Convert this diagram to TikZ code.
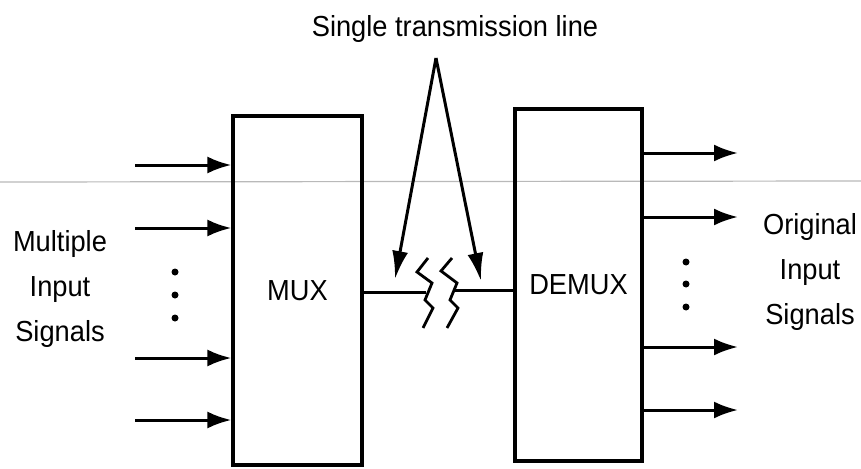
\documentclass[tikz,border=0pt]{standalone}
\usepackage{fontspec}
\setmainfont{Liberation Sans}[FakeStretch=0.94]
\usetikzlibrary{arrows.meta}
\begin{document}
\begin{tikzpicture}[x=1pt,y=-1pt,
  box/.style={draw,line width=3.2pt,inner sep=0pt,font=\fontsize{29}{30}\selectfont},
  lbl/.style={align=center,font=\fontsize{29}{45}\selectfont,inner sep=0pt},
  sig/.style={line width=3pt,-{Latex[length=24pt,width=17pt]}},
  tx/.style={line width=3pt,-{Latex[length=28pt,width=16pt]}},
  wire/.style={line width=3pt},
  brk/.style={line width=2.8pt,line join=miter},
  dotm/.style={circle,fill,inner sep=0pt,minimum size=7pt}]
\useasboundingbox (0,0) rectangle (861,468);
% faint scan line
\draw[gray!55,line width=1.2pt] (0,182) -- (861,181);
% boxes
\node[box,minimum width=129pt,minimum height=349pt] (mux) at (297.5,290.5) {MUX};
\node[box,minimum width=127pt,minimum height=352pt] (demux) at (578.5,285) {DEMUX};
% input arrows
\foreach \y [count=\i] in {165,228,358,420}{
  \coordinate (in\i) at (135,\y);
  \draw[sig] (in\i) -- (in\i -| mux.west);
}
% output arrows
\foreach \y [count=\i] in {153,217,347,410}{
  \coordinate (out\i) at (738,\y);
  \draw[sig] (out\i -| demux.east) -- (out\i);
}
% dots
\node[dotm] (dl1) at (175,272) {};
\node[dotm] (dl2) at (175,295) {};
\node[dotm] (dl3) at (175,318) {};
\node[dotm] (dr1) at (686,262) {};
\node[dotm] (dr2) at (686,284) {};
\node[dotm] (dr3) at (686,307) {};
% side labels
\node[lbl] (inlbl) at (60,289) {Multiple\\Input\\Signals};
\node[lbl] (outlbl) at (810,272) {Original\\Input\\Signals};
% title
\node[font=\fontsize{29}{30}\selectfont,anchor=base,inner sep=0pt] (title) at (455,37) {Single transmission line};
\coordinate (apex) at (436,58);
\coordinate (tipL) at (395,279);
\coordinate (tipR) at (481,281);
\draw[tx] (apex) -- (tipL);
\draw[tx] (apex) -- (tipR);
% transmission line with break
\coordinate (brkL) at (426,292);
\coordinate (brkR) at (453,290);
\draw[wire] (mux.east |- brkL) -- (brkL);
\draw[wire] (brkR) -- (brkR -| demux.west);
\draw[brk] (428,258) -- (417,272) -- (432,283) -- (425,300) -- (433,308) -- (423,328);
\draw[brk] (452,258) -- (441,271) -- (457,283) -- (450,300) -- (458,308) -- (447,328);
\end{tikzpicture}
\end{document}
